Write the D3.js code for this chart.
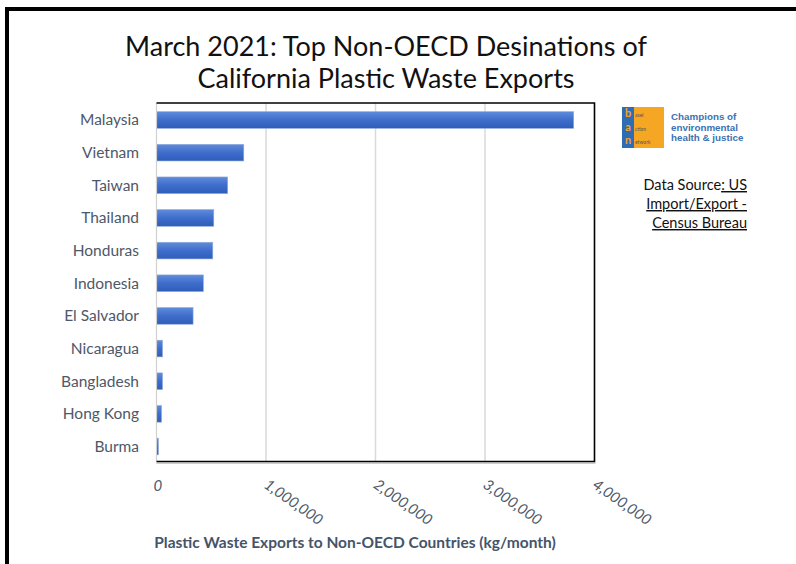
<!DOCTYPE html>
<html><head><meta charset="utf-8">
<script src="https://cdn.jsdelivr.net/npm/d3@7"></script>
<style>body{margin:0;background:#fff}svg{display:block}</style>
</head><body>
<script>
const categories = ["Malaysia","Vietnam","Taiwan","Thailand","Honduras","Indonesia","El Salvador","Nicaragua","Bangladesh","Hong Kong","Burma"];
const values = [3810000,797000,650000,523000,514000,428000,334000,55000,55000,46000,18000];
const tickValues = [0,1000000,2000000,3000000,4000000];
const titleLines = ["March 2021: Top Non-OECD Desinations of","California Plastic Waste Exports"];
const xTitle = "Plastic Waste Exports to Non-OECD Countries (kg/month)";

const W=796,H=564;
const svg=d3.select("body").append("svg").attr("width",W).attr("height",H);
const font="Lato, 'Open Sans', sans-serif";
const defs=svg.append("defs");
const g=defs.append("linearGradient").attr("id","bg").attr("x1",0).attr("x2",0).attr("y1",0).attr("y2",1);
g.append("stop").attr("offset","0%").attr("stop-color","#5F8CDB");
g.append("stop").attr("offset","50%").attr("stop-color","#3E6DCB");
g.append("stop").attr("offset","100%").attr("stop-color","#2E5DBA");

// outer frame
svg.append("rect").attr("x",7).attr("y",9).attr("width",W+20).attr("height",H+20)
  .attr("fill","none").attr("stroke","#000").attr("stroke-width",4);

const L=156.5,R=594.5,T=103,B=461.5;
const x=d3.scaleLinear().domain([0,4000000]).range([L,R]);
const y=d3.scaleBand().domain(categories).range([T+0.5,B+1.5]).paddingInner(0.49).paddingOuter(0.25);

// gridlines
svg.append("g").selectAll("line").data(tickValues.slice(1,-1)).join("line")
  .attr("x1",d=>x(d)).attr("x2",d=>x(d)).attr("y1",T).attr("y2",B)
  .attr("stroke","#D9D9D9").attr("stroke-width",1.5);

// bars
svg.append("g").selectAll("rect").data(values).join("rect")
  .attr("x",x(0)).attr("y",(d,i)=>y(categories[i]))
  .attr("width",d=>x(d)-x(0)).attr("height",y.bandwidth())
  .attr("fill","url(#bg)").attr("stroke","#8FAADC").attr("stroke-width",0.6);

// plot border
svg.append("line").attr("x1",L).attr("x2",L).attr("y1",T).attr("y2",B).attr("stroke","#D0D0D0").attr("stroke-width",1.2);
svg.append("path").attr("d",`M${L},${T}H${R}V${B}H${L}`).attr("fill","none").attr("stroke","#000").attr("stroke-width",1.6);
svg.append("line").attr("x1",L).attr("x2",R+1).attr("y1",B+1.5).attr("y2",B+1.5).attr("stroke","#999").attr("stroke-width",1);

// category axis labels
svg.append("g").selectAll("text").data(categories).join("text")
  .attr("x",139).attr("y",d=>y(d)+y.bandwidth()/2).attr("dy","0.35em")
  .attr("text-anchor","end").attr("font-family",font).attr("font-size",15.5)
  .attr("fill","#4D5869").text(d=>d);

// x tick labels rotated
const fmt=d3.format(",");
svg.append("g").selectAll("text").data(tickValues).join("text")
  .attr("transform",d=>`translate(${x(d)-3},${d===0?491:487}) rotate(${d===0?0:35})`)
  .attr("font-family",font).attr("font-size",15).attr("font-style","italic")
  .attr("fill","#4D5869").text(d=>fmt(d));

// x title
svg.append("text").attr("x",355).attr("y",548).attr("text-anchor","middle")
  .attr("font-family",font).attr("font-weight","bold").attr("font-size",15.5)
  .attr("fill","#44546A").text(xTitle);

// title
svg.append("g").selectAll("text").data(titleLines).join("text")
  .attr("x",386).attr("y",(d,i)=>56+i*32).attr("text-anchor","middle")
  .attr("font-family",font).attr("font-size",27).attr("fill","#111").text(d=>d);

// logo
const lg=svg.append("g");
lg.append("rect").attr("x",622).attr("y",107).attr("width",42).attr("height",41).attr("fill","#F5A623");
lg.append("rect").attr("x",622).attr("y",107).attr("width",12).attr("height",41).attr("fill","#2E6DB4");
["b","a","n"].forEach((c,i)=>{
  lg.append("text").attr("x",628).attr("y",117+i*13.5).attr("text-anchor","middle")
    .attr("font-family",font).attr("font-size",11).attr("font-weight","bold").attr("fill","#F5A623").text(c);
});
["asel","ction","etwork"].forEach((c,i)=>{
  lg.append("text").attr("x",635).attr("y",117+i*13.5).attr("font-family",font)
    .attr("font-size",5).attr("fill","#555").text(c);
});
["Champions of","environmental","health & justice"].forEach((c,i)=>{
  svg.append("text").attr("x",671).attr("y",120+i*10.5).attr("font-family","'Liberation Sans', Arial, sans-serif")
    .attr("font-weight","bold").attr("font-size",9.8).attr("fill","#3A72B5").text(c);
});

// data source
const ds=svg.append("text").attr("font-family",font).attr("font-size",14.5).attr("fill","#111").attr("text-anchor","end");
const l1=ds.append("tspan").attr("x",747).attr("y",190);
l1.append("tspan").text("Data Source");
l1.append("tspan").attr("text-decoration","underline").text(": US");
ds.append("tspan").attr("x",747).attr("y",209).attr("text-decoration","underline").text("Import/Export -");
ds.append("tspan").attr("x",747).attr("y",228).attr("text-decoration","underline").text("Census Bureau");
</script>
</body></html>
